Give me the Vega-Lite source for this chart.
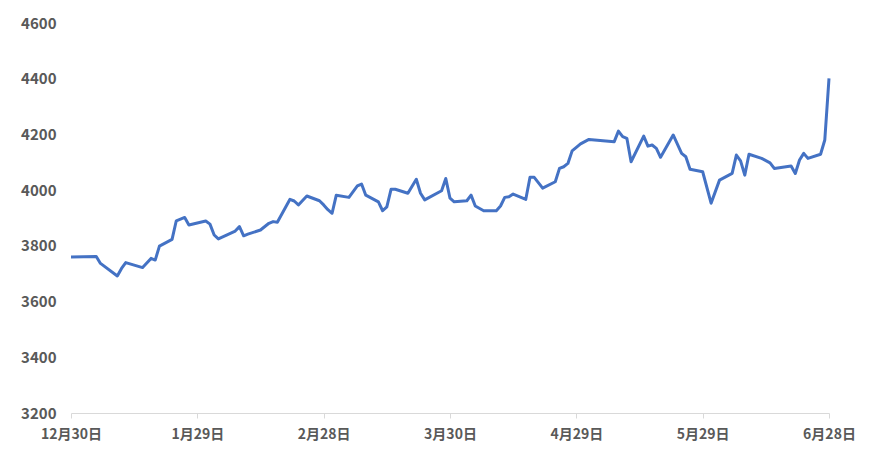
{
  "$schema": "https://vega.github.io/schema/vega-lite/v6.json",
  "autosize": {"type": "none"},
  "width": 758,
  "height": 390,
  "padding": {"left": 71, "top": 23, "right": 41, "bottom": 42},
  "background": "white",
  "config": {"view": {"stroke": null}},
  "data": {"values": [
    {"date": "2022-12-30", "value": 3760},
    {"date": "2023-01-05", "value": 3762},
    {"date": "2023-01-06", "value": 3737},
    {"date": "2023-01-10", "value": 3692},
    {"date": "2023-01-11", "value": 3719},
    {"date": "2023-01-12", "value": 3740},
    {"date": "2023-01-16", "value": 3722},
    {"date": "2023-01-18", "value": 3755},
    {"date": "2023-01-19", "value": 3749},
    {"date": "2023-01-20", "value": 3799},
    {"date": "2023-01-23", "value": 3823},
    {"date": "2023-01-24", "value": 3890},
    {"date": "2023-01-26", "value": 3902},
    {"date": "2023-01-27", "value": 3875},
    {"date": "2023-01-31", "value": 3889},
    {"date": "2023-02-01", "value": 3878},
    {"date": "2023-02-02", "value": 3839},
    {"date": "2023-02-03", "value": 3825},
    {"date": "2023-02-07", "value": 3853},
    {"date": "2023-02-08", "value": 3869},
    {"date": "2023-02-09", "value": 3836},
    {"date": "2023-02-10", "value": 3842},
    {"date": "2023-02-13", "value": 3857},
    {"date": "2023-02-15", "value": 3881},
    {"date": "2023-02-16", "value": 3887},
    {"date": "2023-02-17", "value": 3885},
    {"date": "2023-02-20", "value": 3967},
    {"date": "2023-02-21", "value": 3961},
    {"date": "2023-02-22", "value": 3947},
    {"date": "2023-02-24", "value": 3979},
    {"date": "2023-02-27", "value": 3962},
    {"date": "2023-02-28", "value": 3947},
    {"date": "2023-03-01", "value": 3930},
    {"date": "2023-03-02", "value": 3917},
    {"date": "2023-03-03", "value": 3982},
    {"date": "2023-03-06", "value": 3974},
    {"date": "2023-03-08", "value": 4015},
    {"date": "2023-03-09", "value": 4022},
    {"date": "2023-03-10", "value": 3982},
    {"date": "2023-03-13", "value": 3958},
    {"date": "2023-03-14", "value": 3926},
    {"date": "2023-03-15", "value": 3940},
    {"date": "2023-03-16", "value": 4003},
    {"date": "2023-03-17", "value": 4003},
    {"date": "2023-03-20", "value": 3989},
    {"date": "2023-03-22", "value": 4039},
    {"date": "2023-03-23", "value": 3989},
    {"date": "2023-03-24", "value": 3965},
    {"date": "2023-03-28", "value": 3998},
    {"date": "2023-03-29", "value": 4042},
    {"date": "2023-03-30", "value": 3971},
    {"date": "2023-03-31", "value": 3958},
    {"date": "2023-04-03", "value": 3962},
    {"date": "2023-04-04", "value": 3982},
    {"date": "2023-04-05", "value": 3943},
    {"date": "2023-04-07", "value": 3926},
    {"date": "2023-04-10", "value": 3926},
    {"date": "2023-04-11", "value": 3943},
    {"date": "2023-04-12", "value": 3974},
    {"date": "2023-04-13", "value": 3976},
    {"date": "2023-04-14", "value": 3986},
    {"date": "2023-04-17", "value": 3967},
    {"date": "2023-04-18", "value": 4046},
    {"date": "2023-04-19", "value": 4046},
    {"date": "2023-04-21", "value": 4007},
    {"date": "2023-04-24", "value": 4030},
    {"date": "2023-04-25", "value": 4078},
    {"date": "2023-04-26", "value": 4084},
    {"date": "2023-04-27", "value": 4096},
    {"date": "2023-04-28", "value": 4141},
    {"date": "2023-04-30", "value": 4166},
    {"date": "2023-05-02", "value": 4182},
    {"date": "2023-05-08", "value": 4174},
    {"date": "2023-05-09", "value": 4212},
    {"date": "2023-05-10", "value": 4192},
    {"date": "2023-05-11", "value": 4186},
    {"date": "2023-05-12", "value": 4102},
    {"date": "2023-05-15", "value": 4194},
    {"date": "2023-05-16", "value": 4158},
    {"date": "2023-05-17", "value": 4162},
    {"date": "2023-05-18", "value": 4150},
    {"date": "2023-05-19", "value": 4118},
    {"date": "2023-05-22", "value": 4198},
    {"date": "2023-05-24", "value": 4132},
    {"date": "2023-05-25", "value": 4120},
    {"date": "2023-05-26", "value": 4075},
    {"date": "2023-05-29", "value": 4066},
    {"date": "2023-05-31", "value": 3953},
    {"date": "2023-06-02", "value": 4036},
    {"date": "2023-06-05", "value": 4060},
    {"date": "2023-06-06", "value": 4126},
    {"date": "2023-06-07", "value": 4105},
    {"date": "2023-06-08", "value": 4054},
    {"date": "2023-06-09", "value": 4129},
    {"date": "2023-06-12", "value": 4114},
    {"date": "2023-06-14", "value": 4098},
    {"date": "2023-06-15", "value": 4078},
    {"date": "2023-06-19", "value": 4087},
    {"date": "2023-06-20", "value": 4060},
    {"date": "2023-06-21", "value": 4108},
    {"date": "2023-06-22", "value": 4132},
    {"date": "2023-06-23", "value": 4114},
    {"date": "2023-06-26", "value": 4129},
    {"date": "2023-06-27", "value": 4180},
    {"date": "2023-06-28", "value": 4401}
  ]},
  "mark": {"type": "line", "color": "#4472C4", "strokeWidth": 3, "strokeJoin": "round", "clip": false},
  "encoding": {
    "x": {
      "field": "date",
      "type": "temporal",
      "scale": {
        "type": "utc",
        "domain": [
          {"year": 2022, "month": 12, "date": 30, "utc": true},
          {"year": 2023, "month": 6, "date": 28, "utc": true}
        ]
      },
      "axis": {
        "title": null,
        "format": "%-m月%-d日",
        "values": [
          {"year": 2022, "month": 12, "date": 30, "utc": true},
          {"year": 2023, "month": 1, "date": 29, "utc": true},
          {"year": 2023, "month": 2, "date": 28, "utc": true},
          {"year": 2023, "month": 3, "date": 30, "utc": true},
          {"year": 2023, "month": 4, "date": 29, "utc": true},
          {"year": 2023, "month": 5, "date": 29, "utc": true},
          {"year": 2023, "month": 6, "date": 28, "utc": true}
        ],
        "grid": false,
        "domainColor": "#D9D9D9",
        "domainWidth": 1,
        "tickColor": "#D9D9D9",
        "tickSize": 5,
        "labelPadding": 9,
        "labelFont": "Noto Sans CJK JP",
        "labelFontSize": 14,
        "labelFontWeight": "bold",
        "labelColor": "#595959",
        "labelFlush": false,
        "labelOverlap": false
      }
    },
    "y": {
      "field": "value",
      "type": "quantitative",
      "scale": {"domain": [3200, 4600], "nice": false, "zero": false},
      "axis": {
        "title": null,
        "format": "d",
        "values": [3200, 3400, 3600, 3800, 4000, 4200, 4400, 4600],
        "grid": false,
        "domain": false,
        "ticks": false,
        "labelPadding": 15,
        "labelFont": "Noto Sans CJK JP",
        "labelFontSize": 15,
        "labelFontWeight": "bold",
        "labelColor": "#595959"
      }
    }
  }
}
